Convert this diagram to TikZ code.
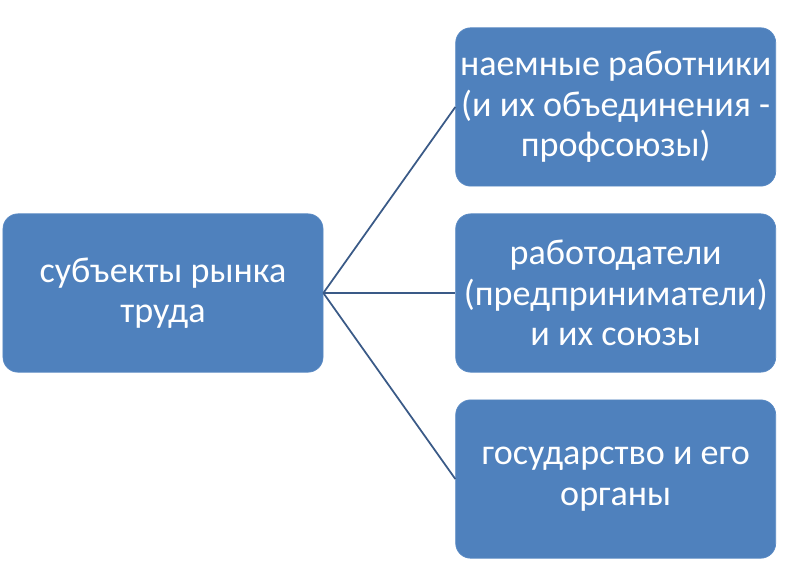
\documentclass[tikz,border=0pt]{standalone}
\usepackage{fontspec}
\setmainfont{Carlito}
\usepackage{xcolor}
\usepackage{tikz}
\usetikzlibrary{positioning}
\definecolor{BoxBlue}{HTML}{4F81BD}
\definecolor{EdgeBlue}{HTML}{5A8AC4}
\definecolor{LinkInk}{HTML}{3A5A87}
\tikzset{
  subj/.style={
    draw=EdgeBlue, fill=BoxBlue, rounded corners=4.5mm, line width=.6pt,
    minimum width=9.6cm, minimum height=4.75cm,
    align=center, inner sep=0pt, text=white,
    font=\fontsize{30.8}{34.6}\selectfont
  },
  link/.style={draw=LinkInk, line width=1.5pt}
}

\begin{document}
\begin{tikzpicture}[node distance=8.1mm and 39.6mm]
  \useasboundingbox (0,0) rectangle (24,-17.61);
  \node[subj] (market) at (4.89,-8.79) {субъекты рынка\\труда};
  \node[subj,right=of market] (employers) {работодатели\\(предприниматели)\\и их союзы};
  \node[subj,above=of employers] (workers) {наемные работники\\(и их объединения -\\профсоюзы)};
  \node[subj,below=of employers] (state) {государство и его\\органы};
  \draw[link] (market.east)--(workers.west);
  \draw[link] (market.east)--(employers.west);
  \draw[link] (market.east)--(state.west);
\end{tikzpicture}
\end{document}
